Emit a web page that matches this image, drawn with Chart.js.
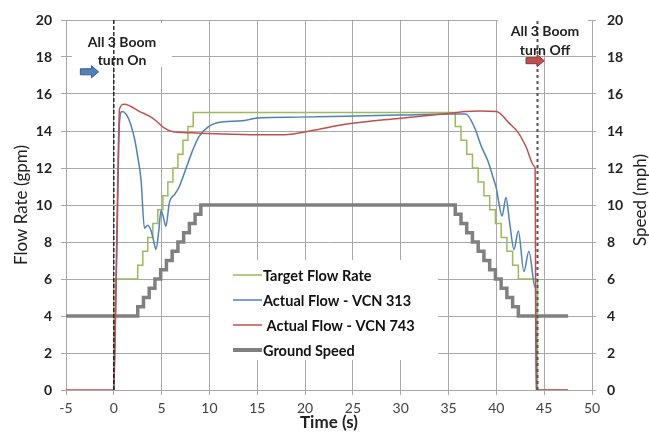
<!DOCTYPE html>
<html>
<head>
<meta charset="utf-8">
<script src="https://cdn.jsdelivr.net/npm/chart.js@4.4.1/dist/chart.umd.min.js"></script>
<style>
  body { margin: 0; background: #fff; }
</style>
</head>
<body>
<canvas id="boomChart" width="649" height="433"></canvas>
<script>
// tick labels
const xTicks = [-5, 0, 5, 10, 15, 20, 25, 30, 35, 40, 45, 50];
const yTicks = [0, 2, 4, 6, 8, 10, 12, 14, 16, 18, 20];

// Target Flow Rate (gpm), stepped
const targetT = [0, 0, 2.5, 3.03, 3.55, 4.08, 4.6, 5.13, 5.65, 6.18, 6.7, 7.23, 7.75, 8.3,
  35.7, 36.3, 36.9, 37.5, 38.1, 38.7, 39.3, 39.9, 40.5, 41.1, 41.7, 42.3, 44.3, 47.5];
const targetQ = [0, 6, 6.75, 7.5, 8.25, 9, 9.75, 10.5, 11.25, 12, 12.75, 13.5, 14.25, 15,
  14.25, 13.5, 12.75, 12, 11.25, 10.5, 9.75, 9, 8.25, 7.5, 6.75, 6, 0, 0];

// Actual Flow - VCN 313 (gpm)
const vcn313T = [0, 0.3, 0.6, 0.85, 1.3, 1.8, 2.2, 2.5, 2.85, 3.2, 3.55, 3.9, 4.15, 4.4, 4.7, 4.94,
  5.2, 5.45, 5.8, 6.4, 6.85, 7.5, 8.2, 8.9, 9.8, 10.8, 13.4, 15, 19.3, 24.2, 29.75, 35, 36.8,
  37.75, 38.4, 39.1, 39.65, 40.0, 40.3, 40.6, 41.0, 41.4, 41.84, 42.3, 42.88, 43.4, 44.05, 44.1, 44.2];
const vcn313Q = [0, 7, 14.5, 15.05, 14.9, 14.3, 13.5, 12.6, 11.35, 8.75, 8.9, 8.6, 8.1, 7.6, 8.6, 9.7,
  9.3, 8.85, 10.1, 10.6, 11.0, 11.9, 12.9, 13.7, 14.2, 14.45, 14.55, 14.7, 14.75, 14.8, 14.86, 14.92, 14.92,
  14.15, 13.2, 12.4, 11.5, 10.9, 10.0, 9.4, 10.4, 9.0, 7.6, 8.6, 6.4, 7.5, 5.55, 5.5, 0];

// Actual Flow - VCN 743 (gpm)
const vcn743T = [-5, 0, 0.3, 0.6, 1.1, 2.7, 4.06, 5.3, 6.1, 8.2, 10.7, 15, 17.8, 21, 24.2, 29.75,
  35, 36.7, 38.3, 40, 40.6, 41.2, 42.3, 43.1, 44.0, 44.05, 44.15, 47.5];
const vcn743Q = [0, 0, 8, 15.2, 15.45, 15.05, 14.7, 14.15, 13.97, 13.9, 13.85, 13.8, 13.8, 14.05, 14.36, 14.68,
  14.95, 15.05, 15.08, 15.05, 14.85, 14.5, 13.9, 13.15, 12.07, 12.0, 0, 0];

// Ground Speed (mph), stepped
const speedT = [-5, 2.5, 3.1, 3.7, 4.3, 4.9, 5.5, 6.1, 6.7, 7.3, 7.9, 8.5, 9.1,
  35.7, 36.3, 36.9, 37.5, 38.1, 38.7, 39.3, 39.9, 40.5, 41.1, 41.7, 42.3, 47.5];
const speedV = [4, 4.5, 5, 5.5, 6, 6.5, 7, 7.5, 8, 8.5, 9, 9.5, 10,
  9.5, 9, 8.5, 8, 7.5, 7, 6.5, 6, 5.5, 5, 4.5, 4, 4];

// boom on / off moments (s)
const boomTimes = [0, 44.3];
const boomLabels = [['All 3 Boom', 'turn On'], ['All 3 Boom', 'turn Off']];

const pts = (xs, ys) => xs.map((x, i) => ({ x: x, y: ys[i] }));

const FONT = 'Lato, "Open Sans", sans-serif';
const GRID = '#a8a8a8';

// white boxes, arrows, texts, legend, right axis title
const extras = {
  id: 'extras',
  beforeDatasetsDraw(chart) {
    const ctx = chart.ctx;
    ctx.save();
    ctx.fillStyle = '#fff';
    ctx.fillRect(72, 23, 100, 44);
    ctx.fillRect(498, 14, 90, 39);
    ctx.fillRect(210, 260, 228, 100);
    ctx.restore();
  },
  afterDatasetsDraw(chart) {
    const ctx = chart.ctx;
    const xs = chart.scales.x, ys = chart.scales.y;
    ctx.save();

    // annotation texts
    ctx.fillStyle = '#222';
    ctx.font = 'bold 14px ' + FONT;
    ctx.textAlign = 'center';
    ctx.textBaseline = 'middle';
    ctx.fillText(boomLabels[0][0], 122, 42);
    ctx.fillText(boomLabels[0][1], 122, 60);
    ctx.fillText(boomLabels[1][0], 545, 31);
    ctx.fillText(boomLabels[1][1], 545, 50);

    // arrows
    function arrow(t0, t1, v, fill, stroke) {
      const x0 = xs.getPixelForValue(t0), x1 = xs.getPixelForValue(t1);
      const y = ys.getPixelForValue(v);
      ctx.beginPath();
      ctx.moveTo(x0, y - 3);
      ctx.lineTo(x1 - 7, y - 3);
      ctx.lineTo(x1 - 7, y - 6);
      ctx.lineTo(x1, y);
      ctx.lineTo(x1 - 7, y + 6);
      ctx.lineTo(x1 - 7, y + 3);
      ctx.lineTo(x0, y + 3);
      ctx.closePath();
      ctx.fillStyle = fill;
      ctx.fill();
      ctx.strokeStyle = stroke;
      ctx.lineWidth = 1;
      ctx.stroke();
    }
    arrow(-3.5, -1.6, 17.2, '#4F81BD', '#385D8A');
    arrow(43.1, 45.0, 17.8, '#C0504D', '#8C3836');

    // legend
    const items = [
      ['Target Flow Rate', '#9BBB59', 1.5],
      ['Actual Flow - VCN 313', '#4F81BD', 1.5],
      [' Actual Flow - VCN 743', '#C0504D', 1.5],
      ['Ground Speed', '#808080', 4]
    ];
    ctx.textAlign = 'left';
    ctx.font = 'bold 14.5px ' + FONT;
    items.forEach((it, i) => {
      const y = 275 + i * 25;
      ctx.strokeStyle = it[1];
      ctx.lineWidth = it[2];
      ctx.beginPath();
      ctx.moveTo(233, y);
      ctx.lineTo(262, y);
      ctx.stroke();
      ctx.fillStyle = '#111';
      ctx.fillText(it[0], 263, y + 1);
    });

    // right axis title
    ctx.translate(641, 200);
    ctx.rotate(-Math.PI / 2);
    ctx.textAlign = 'center';
    ctx.font = '17px ' + FONT;
    ctx.fillStyle = '#222';
    ctx.fillText('Speed (mph)', 0, 0);
    ctx.restore();
  }
};

new Chart(document.getElementById('boomChart'), {
  type: 'line',
  data: {
    datasets: [
      {
        label: 'Target Flow Rate',
        data: pts(targetT, targetQ),
        borderColor: '#9BBB59', borderWidth: 1.5, stepped: true,
        yAxisID: 'y', order: 4
      },
      {
        label: 'Actual Flow - VCN 313',
        data: pts(vcn313T, vcn313Q),
        borderColor: '#4F81BD', borderWidth: 1.5, cubicInterpolationMode: 'monotone',
        yAxisID: 'y', order: 3
      },
      {
        label: 'Actual Flow - VCN 743',
        data: pts(vcn743T, vcn743Q),
        borderColor: '#C0504D', borderWidth: 1.5, cubicInterpolationMode: 'monotone',
        yAxisID: 'y', order: 2
      },
      {
        label: 'Ground Speed',
        data: pts(speedT, speedV),
        borderColor: '#808080', borderWidth: 3.5, stepped: true,
        yAxisID: 'y2', order: 5
      },
      {
        label: 'boom on',
        data: [{ x: boomTimes[0], y: 0 }, { x: boomTimes[0], y: 20 }],
        borderColor: '#111', borderWidth: 1.3, borderDash: [4, 2],
        yAxisID: 'y', order: 1
      },
      {
        label: 'boom off',
        data: [{ x: boomTimes[1], y: 0 }, { x: boomTimes[1], y: 20 }],
        borderColor: '#555', borderWidth: 2, borderDash: [3, 3],
        yAxisID: 'y', order: 1
      }
    ]
  },
  options: {
    responsive: false,
    animation: false,
    devicePixelRatio: 1,
    layout: { padding: { top: 20, left: 0, right: 0, bottom: 0 } },
    elements: { point: { radius: 0 }, line: { fill: false } },
    plugins: { legend: { display: false }, tooltip: { enabled: false } },
    scales: {
      x: {
        type: 'linear', min: -5, max: 50,
        afterBuildTicks: s => { s.ticks = xTicks.map(v => ({ value: v })); },
        afterFit: s => { s.height = 43; },
        grid: { color: GRID, tickLength: 5 },
        border: { color: GRID },
        ticks: { color: '#404040', padding: 5, maxRotation: 0, autoSkip: false,
          font: { family: FONT, size: 14 } },
        title: { display: true, text: 'Time (s)', color: '#222',
          font: { family: FONT, size: 17, weight: 'bold' }, padding: { top: 0, bottom: 0 } }
      },
      y: {
        position: 'left', min: 0, max: 20,
        afterBuildTicks: s => { s.ticks = yTicks.map(v => ({ value: v })); },
        afterFit: s => { s.width = 66; },
        grid: { color: GRID, tickLength: 5 },
        border: { color: GRID },
        ticks: { color: '#222', padding: 9, font: { family: FONT, size: 14, weight: 'bold' } },
        title: { display: true, text: 'Flow Rate (gpm)', color: '#222',
          font: { family: FONT, size: 17 }, padding: { top: 11, bottom: 0 } }
      },
      y2: {
        position: 'right', min: 0, max: 20,
        afterBuildTicks: s => { s.ticks = yTicks.map(v => ({ value: v })); },
        afterFit: s => { s.width = 57; },
        grid: { color: GRID, tickLength: 4, drawOnChartArea: false },
        border: { color: GRID },
        ticks: { color: '#222', padding: 11, font: { family: FONT, size: 14, weight: 'bold' } }
      }
    }
  },
  plugins: [extras]
});
</script>
</body>
</html>
